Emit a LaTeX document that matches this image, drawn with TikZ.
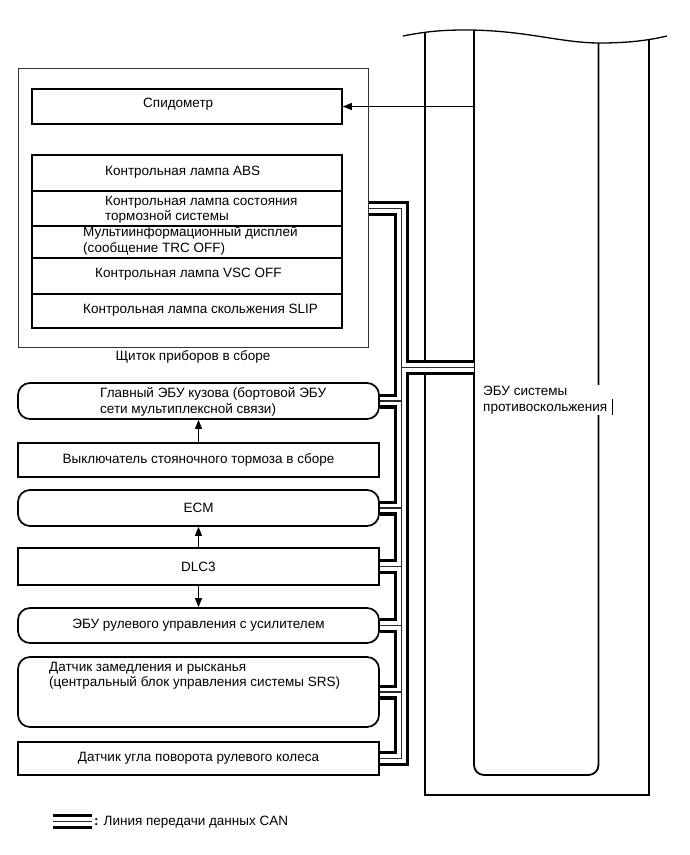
\documentclass[tikz,border=0pt]{standalone}
\usepackage{fontspec}
\setmainfont{Liberation Sans}
\usetikzlibrary{arrows.meta,positioning}
\definecolor{canmid}{HTML}{2A2A2A}
\newcommand\fs{\fontsize{13.5pt}{15.5pt}\selectfont}
\tikzset{
  frame/.style={draw=black!80,line width=1pt,inner sep=0pt},
  row/.style={draw=black,line width=1.6pt,minimum width=310pt,inner sep=0pt},
  box/.style={draw=black,line width=1.7pt,minimum width=361pt,inner sep=0pt,font=\fs,align=center},
  rbox/.style={box,rounded corners=12pt},
  txt/.style={font=\fs,align=left,inner sep=0pt},
  arr/.style={-{Triangle[length=9pt,width=7pt]},line width=1pt},
  canout/.style={line width=15pt,draw=black,line join=miter},
  canin/.style={line width=8.6pt,draw=white,line join=miter},
  canline/.style={line width=1.4pt,draw=canmid,line join=miter},
}
% CAN route: cluster -> trunk -> steering sensor, ECU branch, device stubs
\newcommand\canroute{(cluster.east |- brk) -| (sas.east -| trunk) -- (sas.east)
  (trunk |- ecuin) -- (ecuin)
  foreach \d in {bcm,ecm,dlc,eps,yaw} {(\d.east) -- (\d.east -| trunk)}}
\newcommand\wave{(403,36) .. controls (428,31) and (445,30) .. (465,30)
  .. controls (525,30) and (560,43) .. (600,43) .. controls (630,43) and (650,40) .. (667,36)}

\begin{document}
\begin{tikzpicture}[x=1pt,y=-1pt]
  \useasboundingbox (0,0) rectangle (690,855);

  % skid control ECU
  \begin{scope}
    \clip \wave -- (667,855) -- (403,855) -- cycle;
    \draw[line width=1.3pt] (425,20) -- (425,795) -- (649,795) -- (649,20);
    \draw[line width=1.8pt,rounded corners=10pt] (474,20) -- (474,775) -- (598.5,775) -- (598.5,20);
  \end{scope}
  \draw[line width=1.3pt] \wave;
  \node[txt,fill=white,anchor=west,inner sep=1pt] (tecu) at (482,400) {ЭБУ системы\\противоскольжения};
  \draw[line width=0.6pt] (612,399) -- (612,415);
  \coordinate (spdin) at (474,106.5);
  \coordinate (ecuin) at (474,367.5);
  \coordinate (trunk) at (401.5,0);

  % combination meter
  \node[frame,minimum width=350pt,minimum height=279pt] (cluster) at (193,207.5) {};
  \node[txt,below=3pt of cluster] (cltitle) {Щиток приборов в сборе};
  \node[row,minimum height=35pt] (spd) at (187,106.5) {};
  \node[row,minimum height=36pt] (abs) at (187,173) {};
  \node[row,minimum height=35pt] (brk) at (187,208.5) {};
  \node[row,minimum height=32pt] (mid) at (187,242) {};
  \node[row,minimum height=36pt] (vsc) at (187,276) {};
  \node[row,minimum height=34pt] (slip) at (187,311) {};
  \node[txt,anchor=west] (tspd) at (143,104) {Спидометр};
  \node[txt,anchor=west] (tabs) at (105,172) {Контрольная лампа ABS};
  \node[txt,anchor=west] (tbrk) at (105,210) {Контрольная лампа состояния\\тормозной системы};
  \node[txt,anchor=west] (tmid) at (83,241) {Мультиинформационный дисплей\\(сообщение TRC OFF)};
  \node[txt,anchor=west] (tvsc) at (95,274) {Контрольная лампа VSC OFF};
  \node[txt,anchor=west] (tslip) at (83,310) {Контрольная лампа скольжения SLIP};

  % other units
  \node[rbox,minimum height=36pt] (bcm) at (198.5,401) {};
  \node[txt,anchor=west] (tbcm) at (100,402) {Главный ЭБУ кузова (бортовой ЭБУ\\сети мультиплексной связи)};
  \node[box,minimum height=34pt] (pkb) at (198.5,460) {Выключатель стояночного тормоза в сборе};
  \node[rbox,minimum height=36pt] (ecm) at (198.5,508) {ECM};
  \node[box,minimum height=37pt] (dlc) at (198.5,566.5) {DLC3};
  \node[rbox,minimum height=35pt] (eps) at (198.5,625.5) {ЭБУ рулевого управления с усилителем};
  \node[rbox,minimum height=70pt] (yaw) at (198.5,692) {};
  \node[txt,anchor=west] (tyaw) at (49,675.5) {Датчик замедления и рысканья\\(центральный блок управления системы SRS)};
  \node[box,minimum height=33pt] (sas) at (198.5,758.5) {Датчик угла поворота рулевого колеса};

  \draw[arr] (spdin) -- (spd);
  \draw[arr] (pkb) -- (bcm);
  \draw[arr] (dlc) -- (ecm);
  \draw[arr] (dlc) -- (eps);

  % CAN bus
  \draw[canout] \canroute;
  \draw[canin] \canroute;
  \draw[canline] \canroute;

  % legend
  \coordinate (lg1) at (53,821.5);
  \coordinate (lg2) at (92,821.5);
  \draw[canout] (lg1) -- (lg2);
  \draw[canin] (lg1) -- (lg2);
  \draw[canline] (lg1) -- (lg2);
  \node[txt,anchor=west] (tleg) at (94,822) {\textbf{:} Линия передачи данных CAN};
\end{tikzpicture}
\end{document}
